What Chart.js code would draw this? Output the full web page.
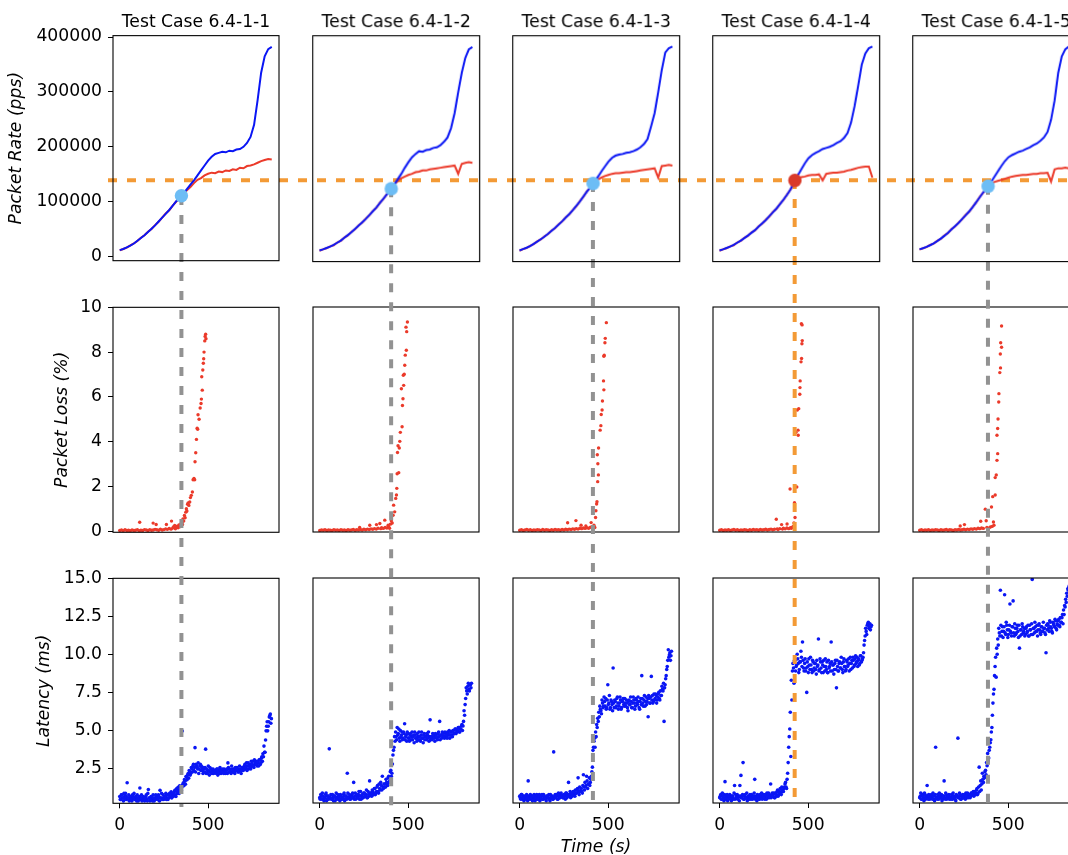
<!DOCTYPE html>
<html lang="en">
<head>
<meta charset="UTF-8" />
<title>Packet rate, loss and latency per test case</title>
<script src="https://cdn.jsdelivr.net/npm/chart.js"></script>
<style>
  html,body{margin:0;padding:0;background:#fff;}
  body{width:1068px;height:855px;overflow:hidden;position:relative;}
  .cell{position:absolute;}
  #overlay{position:absolute;left:0;top:0;z-index:2;pointer-events:none;}
</style>
</head>
<body>
<canvas id="overlay" width="1068" height="855"></canvas>

<script>
// ---- data ----
const CASES = ['Test Case 6.4-1-1','Test Case 6.4-1-2','Test Case 6.4-1-3','Test Case 6.4-1-4','Test Case 6.4-1-5'];
const TIME_TICKS = [0, 500];
const RATE_TICKS = [0, 100000, 200000, 300000, 400000];
const LOSS_TICKS = [0, 2, 4, 6, 8, 10];
const LAT_TICKS  = [2.5, 5, 7.5, 10, 12.5, 15];

// packet rate (pps), sampled every 20 s
const RATE_T = [0,20,40,60,80,100,120,140,160,180,200,220,240,260,280,300,320,340,360,380,
  400,420,440,460,480,500,520,540,560,580,600,620,640,660,680,700,720,740,760,780,800,820,840,860];

const SENT_1 = [12000,14000,17000,20000,24000,29000,34000,39000,45000,51000,
  57000,64000,71000,78000,85000,93000,101000,108000,115000,123000,
  131000,139000,148000,157000,166000,175000,182000,187000,189000,191000,
  190000,193000,192000,195000,196000,200000,207000,218000,240000,285000,
  335000,365000,378000,382000];
const RECV_1 = [11500,14000,16500,20500,24000,28500,34500,39000,45500,50500,
  57500,63500,71000,78500,84500,93000,100500,108000,114000,121000,
  127000,134000,140000,143000,148000,151000,153000,152000,155000,154000,
  157000,156000,159000,158000,162000,161000,165000,166000,168000,171000,
  174000,176000,178000,177000];
const SENT_2 = [13000,15000,17500,20000,23000,27000,31000,36000,41000,46000,
  52000,58000,64000,70000,77000,84000,91000,99000,107000,115000,
  123000,132000,142000,152000,163000,173000,182000,188000,193000,192000,
  195000,196000,199000,200000,204000,210000,218000,235000,262000,300000,
  335000,362000,378000,382000];
const RECV_2 = [12500,15000,17000,20500,22500,27500,30500,36500,40500,46500,
  51500,58500,63500,70500,76500,84500,90500,99500,106500,115500,
  122000,132000,139000,144000,147000,150000,152000,155000,156000,158000,
  158000,160000,161000,162000,163000,164000,165000,166000,167000,152000,
  170000,172000,173000,172000];
const SENT_3 = [13000,15500,18000,21000,25000,29000,33500,38000,43000,48500,
  54000,60000,66000,72500,79000,86000,94000,102000,111000,120000,
  128000,137000,146000,156000,165000,174000,181000,185000,187000,188000,
  190000,191000,193000,196000,200000,206000,215000,238000,262000,300000,
  340000,372000,380000,383000];
const RECV_3 = [12500,15500,17500,21500,24500,29500,33000,38500,42500,49000,
  53500,60500,65500,73000,78500,86500,93500,102500,110500,120500,
  127500,136000,141000,145000,148000,150000,152000,153000,153000,154000,
  155000,155000,156000,157000,158000,159000,160000,161000,162000,145000,
  166000,167000,168000,167000];
const SENT_4 = [13000,15000,17500,20000,23000,27000,31000,35500,40000,45000,
  50000,56000,62000,68000,75000,82000,89000,97000,105000,114000,
  124000,137000,149000,160000,171000,180000,186000,190000,193000,197000,
  199000,201000,204000,208000,211000,217000,226000,245000,275000,312000,
  350000,370000,380000,383000];
const RECV_4 = [12500,15000,17000,20500,22500,27500,30500,36000,39500,45500,
  49500,56500,61500,68500,74500,82500,88500,97500,104500,114500,
  123500,136000,143000,146000,147000,149000,150000,150000,151000,140000,
  152000,153000,154000,154000,155000,156000,158000,159000,161000,163000,
  164000,165000,165000,145000];
const SENT_5 = [15000,17000,19500,22500,26000,30000,34500,39500,45000,51000,
  57000,63000,70000,77000,84000,92000,101000,110000,119000,127000,
  136000,146000,156000,166000,175000,182000,186000,189000,192000,194000,
  197000,200000,204000,207000,212000,218000,228000,250000,285000,335000,
  365000,378000,383000,385000];
const RECV_5 = [14500,17000,19000,23000,25500,30500,34000,40000,44500,51500,
  56500,63500,69500,77500,83500,92500,100500,110500,118500,126500,
  133000,137000,139000,141000,143000,145000,147000,148000,149000,150000,
  150000,151000,152000,152000,153000,153000,154000,138000,160000,162000,
  162000,163000,162000,163000];

// point where received rate falls away from sent rate
const CROSS_T    = [349, 404, 414, 424, 386];
const CROSS_RATE = [111000, 125000, 134500, 140000, 129500];
const RATE_LIMIT = 140000;
const LIMIT_CASE = 3;

// packet loss (%) as [time, value]
const LOSS_1 = [[0,.03],[10,.05],[20,.02],[30,.06],[40,.03],[50,.04],[60,.02],[70,.05],[80,.03],[90,.04],[100,.06],[110,.02],[113,.4],[120,.04],[130,.03],[140,.07],[150,.05],[160,.03],[170,.06],[180,.04],[189,.36],[190,.05],[200,.08],[206,.3],[210,.06],[220,.04],[230,.09],[240,.05],[250,.07],[260,.1],[264,.3],[270,.08],[280,.12],[290,.09],[293,.45],[300,.14],[305,.2],[311,.25],[315,.11],[320,.17],[325,.22],[330,.15],[335,.28],[340,.2],[345,.32],[349,.25],[352,.4],[355,.3],[358,.55],[362,.45],[366,.7],[370,.6],[374,.85],[377,1.0],[380,.9],[384,1.2],[387,1.26],[391,1.15],[396,1.3],[400,1.5],[405,1.6],[411,1.75],[415,2.3],[420,2.35],[424,2.3],[426,3.1],[430,3.5],[434,4.1],[438,4.6],[441,4.55],[443,5.2],[449,5.0],[455,5.5],[460,5.7],[462,5.9],[464,6.9],[467,6.3],[470,7.2],[473,7.5],[475,7.7],[477,8.0],[481,8.5],[483,8.7],[486,8.8],[488,8.6]];
const LOSS_2 = [[0,.02],[10,.04],[20,.03],[30,.05],[40,.02],[50,.04],[60,.03],[70,.02],[80,.05],[90,.03],[100,.04],[110,.02],[120,.05],[130,.03],[140,.04],[150,.02],[160,.05],[170,.03],[180,.04],[190,.06],[200,.03],[210,.05],[220,.04],[226,.15],[230,.06],[240,.04],[250,.07],[260,.05],[270,.08],[280,.06],[283,.25],[290,.09],[300,.07],[310,.1],[321,.28],[320,.08],[330,.12],[340,.33],[345,.1],[350,.14],[360,.11],[368,.48],[370,.15],[380,.13],[387,.25],[390,.18],[395,.12],[400,.3],[405,.45],[410,.35],[415,.7],[418,1.15],[424,.85],[430,1.45],[434,1.6],[436,1.9],[438,2.55],[440,3.5],[443,3.8],[447,2.6],[450,3.7],[453,4.0],[456,4.4],[462,6.35],[466,4.65],[468,5.6],[471,5.9],[473,6.95],[475,6.5],[478,7.0],[481,7.4],[484,7.85],[488,9.1],[490,8.07],[492,8.9],[496,9.33]];
const LOSS_3 = [[0,.03],[10,.05],[20,.02],[30,.04],[40,.06],[50,.03],[60,.05],[70,.02],[80,.04],[90,.03],[100,.05],[110,.04],[120,.02],[130,.06],[140,.03],[150,.05],[160,.04],[170,.02],[180,.05],[190,.03],[200,.06],[210,.04],[220,.05],[230,.03],[240,.06],[250,.04],[260,.07],[271,.36],[270,.05],[280,.08],[290,.06],[300,.09],[310,.07],[318,.46],[320,.1],[330,.08],[340,.12],[347,.25],[350,.1],[360,.13],[370,.11],[374,.22],[380,.14],[390,.12],[400,.16],[404,.37],[410,.18],[415,.12],[420,.25],[425,.15],[429,.6],[431,.9],[435,1.2],[437,1.3],[441,2.2],[445,2.5],[442,3.0],[439,3.4],[446,3.7],[455,4.5],[459,4.7],[461,5.2],[466,5.4],[468,5.8],[476,6.3],[474,6.7],[478,7.85],[476,7.8],[482,8.4],[484,8.6],[490,9.3]];
const LOSS_4 = [[0,.03],[10,.05],[20,.02],[30,.04],[40,.03],[50,.05],[60,.02],[70,.04],[80,.06],[90,.03],[100,.05],[110,.02],[120,.04],[130,.03],[140,.05],[150,.04],[160,.02],[170,.05],[180,.03],[190,.06],[200,.04],[210,.05],[220,.03],[230,.06],[240,.04],[250,.05],[260,.07],[270,.04],[280,.06],[290,.08],[300,.05],[310,.07],[320,.52],[325,.09],[330,.06],[340,.1],[350,.28],[355,.08],[360,.12],[370,.09],[380,.13],[381,.31],[390,.1],[398,1.87],[400,.14],[405,.12],[410,.15],[415,.2],[420,.35],[423,1.26],[426,.6],[431,4.4],[436,1.96],[439,5.4],[443,4.5],[444,4.27],[447,5.46],[453,6.1],[454,6.4],[455,6.7],[460,7.55],[463,7.7],[465,8.36],[467,8.5],[462,9.25],[466,9.2]];
const LOSS_5 = [[0,.03],[10,.05],[20,.02],[30,.04],[40,.03],[50,.05],[60,.02],[70,.04],[80,.03],[90,.05],[100,.04],[110,.02],[120,.05],[130,.03],[140,.04],[150,.06],[160,.03],[170,.05],[180,.04],[190,.02],[200,.05],[210,.04],[220,.06],[229,.22],[230,.04],[240,.05],[250,.07],[253,.28],[260,.05],[270,.08],[280,.06],[290,.09],[300,.07],[310,.1],[320,.08],[330,.12],[340,.1],[345,.43],[350,.13],[360,.11],[371,.97],[376,.45],[380,.15],[390,.12],[400,.17],[406,1.07],[410,.2],[413,1.53],[417,.4],[420,.25],[427,1.6],[427,2.38],[433,2.5],[437,3.15],[441,3.45],[437,4.27],[441,4.57],[443,5.0],[447,5.76],[448,6.13],[453,7.07],[457,7.28],[456,7.9],[463,8.2],[458,8.4],[463,9.15]];

// latency (ms): two interleaved passes, every 6 s starting at 0 s and at 3 s
const LAT_T = [0,6,12,18,24,30,36,42,48,54,
  60,66,72,78,84,90,96,102,108,114,
  120,126,132,138,144,150,156,162,168,174,
  180,186,192,198,204,210,216,222,228,234,
  240,246,252,258,264,270,276,282,288,294,
  300,306,312,318,324,330,336,342,348,354,
  360,366,372,378,384,390,396,402,408,414,
  420,426,432,438,444,450,456,462,468,474,
  480,486,492,498,504,510,516,522,528,534,
  540,546,552,558,564,570,576,582,588,594,
  600,606,612,618,624,630,636,642,648,654,
  660,666,672,678,684,690,696,702,708,714,
  720,726,732,738,744,750,756,762,768,774,
  780,786,792,798,804,810,816,822,828,834,
  840,846,852,858];
const LAT_T2 = [3,9,15,21,27,33,39,45,51,57,
  63,69,75,81,87,93,99,105,111,117,
  123,129,135,141,147,153,159,165,171,177,
  183,189,195,201,207,213,219,225,231,237,
  243,249,255,261,267,273,279,285,291,297,
  303,309,315,321,327,333,339,345,351,357,
  363,369,375,381,387,393,399,405,411,417,
  423,429,435,441,447,453,459,465,471,477,
  483,489,495,501,507,513,519,525,531,537,
  543,549,555,561,567,573,579,585,591,597,
  603,609,615,621,627,633,639,645,651,657,
  663,669,675,681,687,693,699,705,711,717,
  723,729,735,741,747,753,759,765,771,777,
  783,789,795,801,807,813,819,825,831,837,
  843,849,855];
const LAT_1 = [0.7,0.5,0.8,0.6,0.9,0.5,0.7,1.6,0.6,0.4,
  0.7,0.5,0.8,0.6,0.5,0.7,0.4,0.6,0.5,1.25,
  0.6,0.4,0.7,0.5,0.6,0.8,0.4,1.15,0.6,0.5,
  0.7,0.4,0.6,0.5,0.8,0.6,0.5,0.7,1.1,0.6,
  0.5,0.8,0.6,0.7,0.5,0.8,0.6,0.9,0.7,0.6,
  0.9,0.8,1.1,0.7,1.0,1.3,0.9,1.2,1.1,4.99,
  1.6,1.8,1.5,2.0,2.1,1.9,2.3,2.2,2.5,2.7,
  2.4,3.9,2.8,2.6,2.9,2.5,2.8,2.7,2.4,2.6,
  2.3,3.8,2.5,2.2,2.4,2.6,2.3,2.2,2.5,2.3,
  2.4,2.2,2.5,2.3,2.2,2.4,2.3,2.5,2.2,2.4,
  2.3,2.5,2.9,2.3,2.4,2.2,2.5,2.4,2.3,2.6,
  2.4,2.5,2.3,2.7,2.5,2.4,2.6,2.5,2.8,2.6,
  2.4,2.9,2.7,2.6,3.0,2.8,2.7,3.1,2.9,2.8,
  3.0,2.7,3.1,2.9,3.3,3.5,4.0,3.6,5.0,5.6,
  5.3,5.9,6.1,5.8];
const LAT_1B = [0.5,0.8,0.6,0.4,0.7,0.9,0.5,0.6,0.8,0.5,
  0.6,0.4,0.7,0.9,0.5,0.6,0.8,0.4,0.7,0.5,
  0.8,0.5,0.6,0.4,0.7,0.5,0.9,0.6,0.4,0.7,
  0.5,0.8,0.4,0.6,0.7,0.5,0.8,0.4,0.6,0.9,
  0.6,0.5,0.7,0.9,0.6,0.5,0.8,0.7,1.0,0.8,
  0.7,1.0,0.8,1.2,0.9,1.1,1.4,1.0,1.3,1.5,
  1.4,1.7,2.0,1.8,2.2,2.4,2.1,2.6,2.3,2.8,
  2.6,2.3,2.7,2.5,2.2,2.7,2.4,2.6,2.2,2.5,
  2.6,2.2,2.4,2.7,2.1,2.3,2.5,2.4,2.2,2.4,
  2.3,2.5,2.1,2.4,2.6,2.2,2.4,2.3,2.5,2.2,
  2.4,2.2,2.6,2.5,2.3,2.7,2.3,2.5,2.2,2.4,
  2.6,2.3,2.5,2.4,2.2,2.6,2.4,2.7,2.5,2.9,
  2.7,2.5,2.8,2.5,2.7,3.0,2.6,2.8,3.0,2.7,
  2.9,3.1,2.8,3.2,3.0,3.3,3.6,4.4,5.3,5.0,
  5.6,6.0,5.5];
const LAT_2 = [0.6,0.8,0.5,0.7,0.4,0.6,0.9,0.5,0.7,3.8,
  0.6,0.5,0.8,0.4,0.7,0.6,0.5,0.8,0.6,0.4,
  0.7,0.5,0.6,0.9,0.5,0.7,2.2,0.6,0.8,0.5,
  0.6,0.9,1.6,0.7,0.5,0.8,0.6,1.0,0.7,0.5,
  0.8,0.6,0.9,0.7,1.1,0.6,0.8,1.7,0.9,0.7,
  1.0,0.8,1.2,0.9,1.3,1.0,1.5,1.1,1.4,2.0,
  1.2,1.5,1.3,1.6,1.4,2.0,1.7,2.4,2.2,3.4,
  3.9,4.3,4.6,5.2,4.8,4.5,5.0,4.7,4.4,4.9,
  5.45,4.6,4.3,4.8,4.5,4.7,4.4,4.9,4.6,4.2,
  4.7,4.5,4.8,4.4,4.6,4.3,4.9,4.5,4.7,4.4,
  4.6,4.8,4.5,4.3,5.7,4.6,4.4,4.7,4.5,4.8,
  4.6,4.4,4.9,5.6,4.7,4.5,4.8,4.6,4.9,4.7,
  4.5,4.8,5.0,4.7,4.9,4.6,5.0,4.8,5.1,4.9,
  5.0,5.2,4.9,5.1,5.4,5.3,6.3,6.7,7.8,7.4,
  8.1,7.6,8.0,8.1];
const LAT_2B = [0.5,0.7,0.9,0.5,0.6,0.8,0.4,0.7,0.5,0.6,
  0.8,0.5,0.6,0.7,0.4,0.9,0.6,0.5,0.7,0.8,
  0.5,0.6,0.8,0.4,0.7,0.5,0.9,0.6,0.5,0.7,
  0.8,0.6,0.5,0.9,0.7,0.6,0.8,0.5,1.0,0.7,
  0.6,0.9,0.7,0.8,0.6,1.0,0.7,0.9,0.8,1.1,
  0.9,1.2,0.8,1.0,1.4,0.9,1.2,1.6,1.1,1.3,
  1.5,1.3,1.8,1.5,1.9,1.6,2.3,2.0,2.8,3.7,
  4.6,4.9,4.4,4.7,5.1,4.3,4.6,4.9,4.5,4.8,
  4.4,4.7,4.9,4.5,4.3,4.8,4.6,4.4,4.7,4.9,
  4.5,4.3,4.6,4.9,4.4,4.7,4.5,4.2,4.8,4.6,
  4.4,4.7,4.9,4.6,4.4,4.5,4.8,4.6,4.3,4.7,
  4.5,4.8,4.6,4.4,4.7,4.9,4.6,4.5,4.8,4.6,
  4.9,4.7,4.5,4.9,4.7,5.0,4.8,5.1,4.8,5.0,
  5.2,4.9,5.1,5.3,5.0,5.6,6.0,7.1,7.6,7.9,
  7.7,8.0,7.8];
const LAT_3 = [0.7,0.5,0.8,0.6,0.4,0.7,0.5,0.6,1.7,0.5,
  0.8,0.6,0.4,0.7,0.5,0.6,0.8,0.5,0.7,0.4,
  0.6,0.8,0.5,0.7,0.6,0.4,0.7,0.6,0.5,0.8,
  0.6,0.5,3.6,0.7,0.6,0.8,0.5,0.7,0.6,0.9,
  0.7,0.6,0.8,0.5,0.9,0.7,1.6,0.8,0.6,0.9,
  0.8,1.0,0.7,0.9,1.1,1.9,0.8,1.0,1.2,0.9,
  2.1,1.1,1.3,2.0,1.2,1.5,1.4,1.8,2.3,3.7,
  4.3,3.9,4.6,5.2,5.6,5.9,6.4,6.1,6.8,6.6,
  6.9,7.1,6.5,8.0,6.8,6.4,7.0,6.7,9.1,6.5,
  6.9,6.6,7.2,6.4,6.8,7.0,6.5,6.9,6.7,7.1,
  6.6,6.8,6.3,7.0,6.7,6.9,6.5,7.2,6.8,6.6,
  7.0,6.7,6.9,6.4,7.1,8.6,6.8,7.0,6.6,7.2,
  6.9,5.9,7.1,6.8,8.55,7.3,6.9,7.0,7.4,6.8,
  7.2,7.5,7.0,7.3,7.9,7.6,5.6,8.0,8.6,9.2,
  10.3,9.96,9.6,10.2];
const LAT_3B = [0.6,0.8,0.5,0.7,0.5,0.6,0.8,0.4,0.7,0.6,
  0.5,0.7,0.6,0.8,0.4,0.7,0.5,0.6,0.8,0.5,
  0.7,0.5,0.8,0.6,0.5,0.7,0.6,0.8,0.4,0.6,
  0.7,0.5,0.6,0.8,0.7,0.5,0.9,0.6,0.8,0.7,
  0.6,0.8,0.7,0.9,0.6,0.8,0.7,1.0,0.8,0.7,
  1.0,0.8,1.1,0.9,1.2,1.0,1.3,1.1,1.0,1.4,
  1.3,1.6,1.4,1.7,1.5,1.9,1.6,2.0,2.6,3.9,
  4.5,4.9,5.4,5.8,6.2,6.6,6.3,7.0,6.5,7.2,
  6.6,6.4,7.0,6.7,7.3,6.5,6.9,6.3,6.8,7.0,
  6.5,7.1,6.8,6.6,7.2,6.4,6.9,7.1,6.6,6.8,
  7.0,6.5,6.9,6.7,7.2,6.5,6.8,7.0,6.4,7.1,
  6.8,7.2,6.5,6.9,6.7,7.1,6.6,7.3,6.9,6.7,
  7.1,7.3,6.8,7.2,7.0,6.8,7.4,7.1,7.3,7.0,
  7.4,7.1,7.6,7.3,7.7,8.1,7.8,8.4,9.0,9.6,
  9.8,10.1,9.9];
const LAT_4 = [0.6,0.8,0.5,0.7,0.4,1.65,0.6,0.8,0.5,0.7,
  0.6,0.4,0.7,0.5,1.4,0.8,0.6,0.5,0.7,1.4,
  2.06,0.6,2.9,0.5,0.8,0.6,0.4,0.7,0.5,0.6,
  0.8,0.5,0.7,1.8,0.6,0.4,0.7,0.5,0.8,0.6,
  0.5,0.7,0.6,0.8,0.5,0.7,0.9,0.6,1.5,0.8,
  0.7,0.9,0.6,0.8,1.0,0.7,0.9,1.2,0.8,1.1,
  1.0,1.3,1.6,1.2,2.2,3.9,5.1,3.3,7.0,9.4,
  8.1,9.6,9.2,10.0,9.4,9.0,9.5,9.8,10.8,9.1,
  9.4,8.9,7.5,9.2,9.7,9.0,9.3,8.8,9.5,9.1,
  9.4,8.7,9.2,11.0,9.0,9.5,8.8,9.3,9.6,8.9,
  9.2,9.5,8.8,9.1,9.4,10.8,8.9,9.3,9.0,9.6,
  7.8,9.2,8.9,9.5,9.1,9.4,8.8,9.7,9.2,9.0,
  9.5,9.3,8.9,9.8,9.4,9.1,9.6,9.3,9.9,9.5,
  9.2,9.7,9.4,9.9,9.6,9.8,10.6,11.2,11.5,11.9,
  12.1,11.8,11.6,11.9];
const LAT_4B = [0.7,0.5,0.9,0.6,0.8,0.5,0.7,0.4,0.6,0.8,
  0.5,0.7,0.6,0.9,0.5,0.6,0.8,0.6,0.4,0.7,
  0.6,0.8,0.5,0.7,0.6,0.9,0.5,0.6,0.8,0.5,
  0.7,0.6,0.9,0.5,0.7,0.8,0.6,0.5,0.7,0.9,
  0.6,0.8,0.5,0.7,0.9,0.6,0.8,0.7,0.6,0.9,
  0.8,0.6,0.9,0.7,1.1,0.8,1.0,0.9,1.3,1.0,
  1.2,1.5,1.3,1.8,2.9,4.6,6.2,8.3,8.9,9.1,
  9.6,8.9,9.3,9.7,8.8,9.5,10.2,9.2,9.6,8.9,
  9.7,9.1,9.5,8.8,9.3,9.8,9.0,9.6,8.9,9.4,
  9.0,9.6,9.3,8.9,9.7,9.1,9.5,8.8,9.2,9.7,
  9.0,8.8,9.6,9.2,8.9,9.5,9.3,8.7,9.4,9.0,
  9.6,8.9,9.4,9.1,9.8,9.0,9.5,9.2,8.9,9.6,
  9.2,9.7,9.4,9.0,9.6,9.8,9.2,9.7,9.4,9.8,
  9.6,9.3,9.9,9.5,9.7,10.1,10.9,11.7,11.3,12.0,
  11.7,12.0,11.8];
const LAT_5 = [0.6,0.9,0.5,0.7,0.4,0.8,0.6,1.4,0.5,0.7,
  0.6,0.8,0.5,0.7,0.4,3.9,0.6,0.8,0.5,0.7,
  0.6,0.4,0.7,1.7,0.5,0.8,0.6,0.7,0.5,0.6,
  0.8,0.5,0.7,0.6,0.4,0.7,4.5,0.6,0.8,0.5,
  0.7,0.6,0.8,0.5,0.7,0.9,0.6,0.8,0.7,0.9,
  0.8,0.7,1.0,0.8,1.2,0.9,2.6,1.4,1.1,2.2,
  1.6,1.9,2.4,2.9,3.5,3.2,3.9,4.4,5.2,6.8,
  7.7,9.2,8.5,10.0,10.6,11.4,14.2,11.2,11.8,11.5,
  13.9,11.3,11.9,11.1,11.6,13.3,11.4,11.8,13.5,11.2,
  11.7,11.4,11.9,11.1,10.4,11.6,11.3,11.8,11.5,11.2,
  11.7,11.4,11.9,11.2,11.6,11.3,14.9,11.7,11.4,11.8,
  11.5,11.2,11.9,11.6,11.3,11.8,11.5,11.7,11.4,10.1,
  11.6,11.9,11.5,12.1,11.7,11.4,12.0,11.8,12.2,11.6,
  11.9,12.3,11.8,12.1,12.4,12.0,12.6,13.1,13.4,13.8,
  14.2,14.5,14.8,14.6];
const LAT_5B = [0.7,0.5,0.8,0.6,0.9,0.5,0.7,0.6,0.8,0.5,
  0.7,0.6,0.9,0.5,0.8,0.6,0.5,0.7,0.9,0.6,
  0.8,0.5,0.7,0.6,0.9,0.5,0.7,0.8,0.6,0.5,
  0.7,0.9,0.6,0.5,0.8,0.7,0.6,0.9,0.5,0.7,
  0.8,0.6,0.7,0.9,0.6,0.8,0.7,0.6,0.9,0.8,
  1.0,0.8,0.9,1.1,0.8,1.3,1.0,1.7,1.5,1.8,
  2.0,2.3,2.1,2.7,3.0,3.7,4.2,4.9,6.0,7.4,
  8.6,9.8,10.4,11.0,11.7,11.2,11.9,11.5,11.1,11.8,
  11.4,12.1,11.6,11.3,11.9,11.5,11.2,11.8,11.4,12.0,
  11.3,11.7,11.5,11.9,11.2,11.6,12.0,11.4,11.7,11.3,
  11.8,11.5,11.2,11.9,11.6,12.0,11.3,11.7,12.1,11.5,
  11.9,11.6,12.0,11.4,11.8,11.5,12.1,11.7,11.3,11.9,
  12.0,11.7,12.2,11.8,11.5,12.1,11.9,12.3,11.7,12.0,
  12.2,11.9,12.4,12.1,12.6,12.9,13.2,13.6,14.0,14.3,
  14.4,14.7,14.5];

const SENT = [SENT_1, SENT_2, SENT_3, SENT_4, SENT_5];
const RECV = [RECV_1, RECV_2, RECV_3, RECV_4, RECV_5];
const LOSS = [LOSS_1, LOSS_2, LOSS_3, LOSS_4, LOSS_5];
const LAT  = [LAT_1, LAT_2, LAT_3, LAT_4, LAT_5];
const LAT_B = [LAT_1B, LAT_2B, LAT_3B, LAT_4B, LAT_5B];

// ---- layout ----
const FONT = "'DejaVu Sans', sans-serif";
const FS = 17.2;
const COL_X = [113, 313, 513, 713, 913];
const ROW_Y = [36, 307, 578];
const AX_W = 166, AX_H = 225;
const BLUE = '#0a16f4', RED = '#eb3a2a', ORANGE = '#f39a36', GREY = '#929292';

const ROWS = [
  {min: -7300, max: 402500, ticks: RATE_TICKS, label: 'Packet Rate (pps)', pad: 6.5, fmt: v => String(v)},
  {min: -0.05, max: 10, ticks: LOSS_TICKS, label: 'Packet Loss (%)', pad: 52.5, fmt: v => String(v)},
  {min: 0.25, max: 15, ticks: LAT_TICKS, label: 'Latency (ms)', pad: 34.5, fmt: v => v.toFixed(1)}
];

Chart.defaults.font.family = FONT;
Chart.defaults.color = '#000';

const frame = {
  id: 'frame',
  afterDatasetsDraw(chart){
    const {ctx, chartArea: a} = chart;
    ctx.save();
    ctx.strokeStyle = '#000';
    ctx.lineWidth = 1.1;
    ctx.strokeRect(a.left, a.top, a.right - a.left, a.bottom - a.top);
    ctx.restore();
  }
};

function datasetsFor(row, c){
  if (row === 0) {
    const line = (vals, color, order) => ({
      data: RATE_T.map((t, i) => ({x: t, y: vals[i]})),
      showLine: true, borderColor: color, borderWidth: 2, pointRadius: 0, order
    });
    return [
      {data: [{x: CROSS_T[c], y: CROSS_RATE[c]}], pointRadius: 6.7, borderWidth: 0,
       backgroundColor: c === LIMIT_CASE ? '#d9392a' : '#6dbdf5', order: 0},
      line(SENT[c], BLUE, 1),
      line(RECV[c], RED, 2)
    ];
  }
  if (row === 1) {
    return [{data: LOSS[c].map(([x, y]) => ({x, y})), pointRadius: 1.7, borderWidth: 0, backgroundColor: RED}];
  }
  const dots = (times, vals) => ({data: times.map((t, i) => ({x: t, y: vals[i]})),
    pointRadius: 1.8, borderWidth: 0, backgroundColor: BLUE});
  return [dots(LAT_T, LAT[c]), dots(LAT_T2, LAT_B[c])];
}

function addCell(row, c){
  const R = ROWS[row];
  const first = c === 0, bottom = row === 2, top = row === 0;
  const yw = first ? 113 : 4;
  const xh = bottom ? 55 : 6;
  const div = document.createElement('div');
  div.className = 'cell';
  div.style.zIndex = top ? 3 : 1;
  div.style.width = (yw + AX_W + 12) + 'px';
  div.style.height = ((top ? 30 : 12) + AX_H + xh) + 'px';
  const cv = document.createElement('canvas');
  div.appendChild(cv);
  document.body.appendChild(div);

  const chart = new Chart(cv, {
    type: 'scatter',
    data: {datasets: datasetsFor(row, c)},
    options: {
      animation: false, responsive: true, maintainAspectRatio: false, events: [],
      layout: {padding: {left: 0, right: 12, top: top ? 0 : 12, bottom: 0}},
      plugins: {
        legend: {display: false}, tooltip: {enabled: false},
        title: {display: top, fullSize: false, text: CASES[c], color: '#000',
                font: {family: FONT, size: FS, weight: 'normal'}, padding: {top: 4, bottom: 3}}
      },
      scales: {
        x: {
          type: 'linear', min: -38, max: 901,
          afterBuildTicks: s => { s.ticks = TIME_TICKS.map(v => ({value: v})); },
          afterFit: s => { s.height = xh; },
          ticks: {display: bottom, font: {size: FS}, color: '#000', padding: 7, maxRotation: 0, autoSkip: false},
          grid: {display: bottom, drawOnChartArea: false, tickLength: 5, color: '#000', lineWidth: 1},
          border: {display: false},
          title: {display: bottom && c === 2, text: 'Time (s)', color: '#000',
                  font: {size: FS, style: 'italic'}, padding: {top: 0, bottom: 0}}
        },
        y: {
          min: R.min, max: R.max,
          afterBuildTicks: s => { s.ticks = R.ticks.map(v => ({value: v})); },
          afterFit: s => { s.width = yw; },
          ticks: {display: first, font: {size: FS}, color: '#000', padding: 6, callback: R.fmt},
          grid: {display: first, drawOnChartArea: false, tickLength: 5, color: '#000', lineWidth: 1},
          border: {display: false},
          title: {display: first, text: R.label, color: '#000',
                  font: {size: FS, style: 'italic'}, padding: {top: R.pad, bottom: 0}}
        }
      }
    },
    plugins: [frame]
  });

  // size the box so the plot area is exactly AX_W x AX_H, then put it in place
  let a = chart.chartArea;
  div.style.width = (parseFloat(div.style.width) + AX_W - (a.right - a.left)) + 'px';
  div.style.height = (parseFloat(div.style.height) + AX_H - (a.bottom - a.top)) + 'px';
  chart.resize();
  a = chart.chartArea;
  const left = COL_X[c] - a.left, topPx = ROW_Y[row] - a.top;
  div.style.left = left + 'px';
  div.style.top = topPx + 'px';
  return {chart, left, top: topPx};
}

const cells = [0, 1, 2].map(r => [0, 1, 2, 3, 4].map(c => addCell(r, c)));

// dashed guides running across the panels
function drawGuides(){
  const ctx = document.getElementById('overlay').getContext('2d');
  const px = (cell, v) => cell.left + cell.chart.scales.x.getPixelForValue(v);
  const py = (cell, v) => cell.top + cell.chart.scales.y.getPixelForValue(v);
  ctx.lineWidth = 4;
  ctx.setLineDash([9, 10]);
  const yEnd = ROW_Y[2] + AX_H + 4;
  CROSS_T.forEach((t, c) => {
    const cell = cells[0][c];
    const x = px(cell, t);
    ctx.strokeStyle = c === LIMIT_CASE ? ORANGE : GREY;
    ctx.beginPath();
    ctx.moveTo(x, py(cell, CROSS_RATE[c]));
    ctx.lineTo(x, yEnd);
    ctx.stroke();
  });
  const yl = py(cells[0][0], RATE_LIMIT);
  ctx.strokeStyle = ORANGE;
  ctx.beginPath();
  ctx.moveTo(COL_X[0] - 5, yl);
  ctx.lineTo(1068, yl);
  ctx.stroke();
}
drawGuides();
</script>
</body>
</html>
